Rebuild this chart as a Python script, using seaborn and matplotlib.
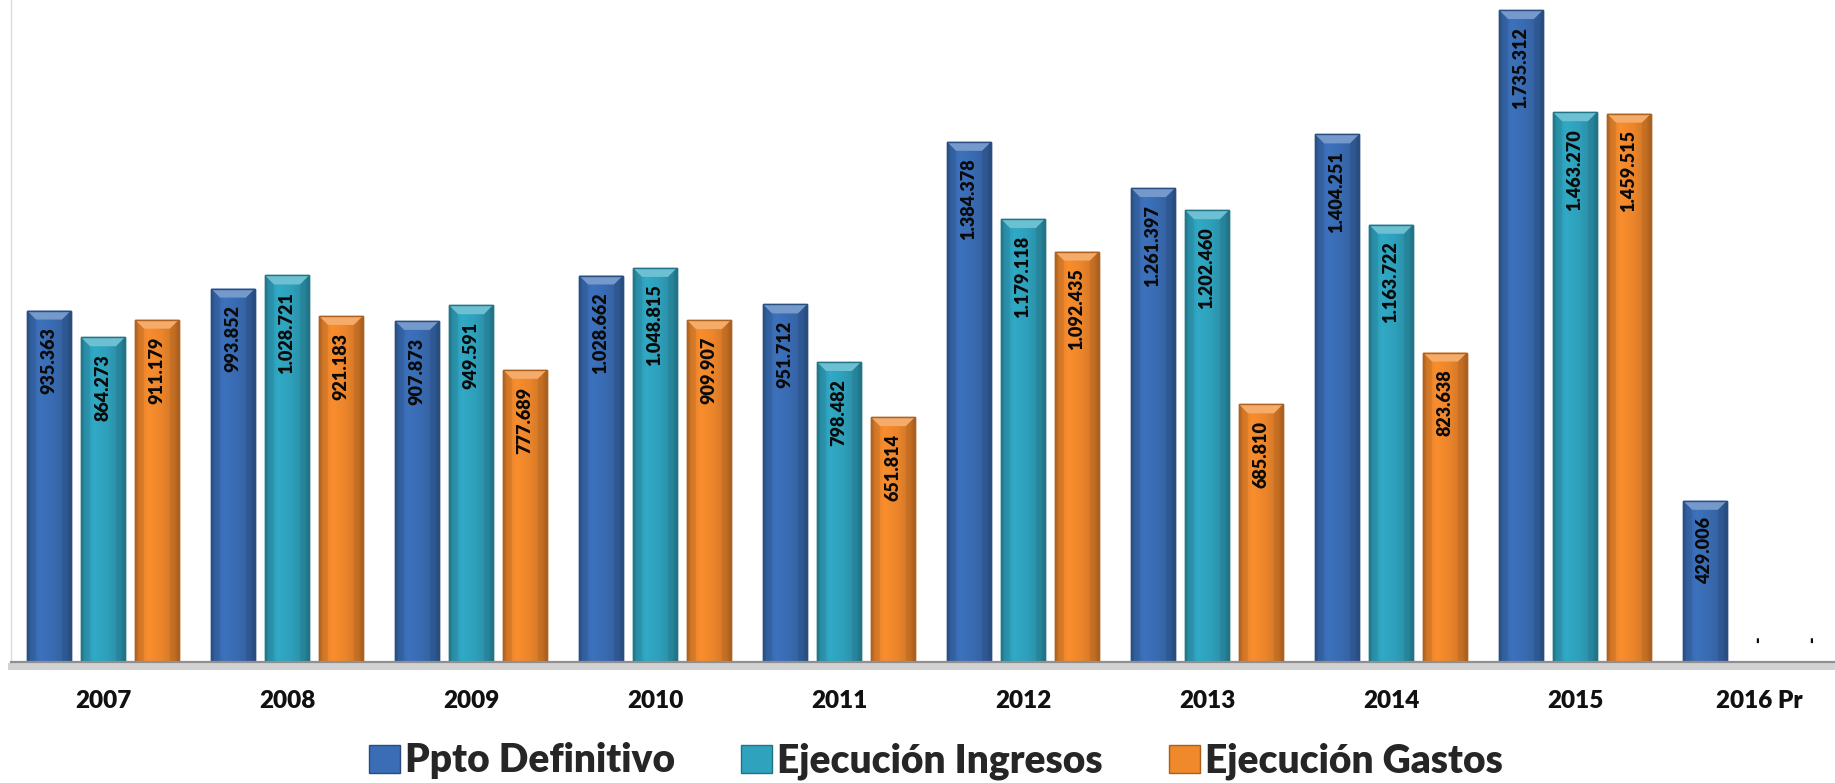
import numpy as np
import pandas as pd
import matplotlib
matplotlib.use("Agg")
import matplotlib.pyplot as plt
import matplotlib.patheffects as pe
from matplotlib.patches import Patch, Polygon
from matplotlib.colors import to_rgb
import seaborn as sns

# ---- data -------------------------------------------------------------
years = ["2007", "2008", "2009", "2010", "2011", "2012", "2013", "2014", "2015", "2016 Pr"]
series = ["Ppto Definitivo", "Ejecución Ingresos", "Ejecución Gastos"]
ppto_definitivo = [935363, 993852, 907873, 1028662, 951712, 1384378, 1261397, 1404251, 1735312, 429006]
ejecucion_ingresos = [864273, 1028721, 949591, 1048815, 798482, 1179118, 1202460, 1163722, 1463270, 0]
ejecucion_gastos = [911179, 921183, 777689, 909907, 651814, 1092435, 685810, 823638, 1459515, 0]
colors = ["#3A6DB5", "#2FA3BE", "#F0882C"]

df = pd.DataFrame({
    "Año": years * 3,
    "Serie": [s for s in series for _ in years],
    "Valor": ppto_definitivo + ejecucion_ingresos + ejecucion_gastos,
})

# ---- style --------------------------------------------------------------
sns.set_theme(style="white")
plt.rcParams["font.family"] = ["Lato", "DejaVu Sans"]
WEIGHT = "heavy"

W, H = 1835, 783
fig = plt.figure(figsize=(W / 100, H / 100), dpi=100)
fig.patch.set_facecolor("white")
ax = fig.add_axes([11 / W, 121 / H, 1 - 11 / W, 662 / H])

sns.barplot(data=df, x="Año", y="Valor", hue="Serie", order=years, hue_order=series,
            palette=colors, saturation=1, width=0.88, gap=0.185, legend=False, ax=ax)

ax.set_xlim(-0.5, 9.413)
ax.set_ylim(0, 1761924)
ax.set_xlabel("")
ax.set_ylabel("")
ax.set_yticks([])
ax.set_facecolor("white")
ax.grid(False)
for side in ("top", "right"):
    ax.spines[side].set_visible(False)
ax.spines["left"].set_color("#DCDCDC")
ax.spines["left"].set_linewidth(1.0)
ax.spines["bottom"].set_color("#8F8F8F")
ax.spines["bottom"].set_linewidth(1.6)
ax.spines["bottom"].set_path_effects([
    pe.SimpleLineShadow(offset=(0, -3), shadow_color="#7F7F7F", alpha=0.35, linewidth=5),
    pe.Normal(),
])
ax.tick_params(axis="x", length=0, pad=20, labelsize=17.5)
for t in ax.get_xticklabels():
    t.set_fontweight(WEIGHT)
    t.set_color("#111111")

# ---- bar shading: horizontal gradient + bevelled top ----------------------
fig.canvas.draw()
px_y = (ax.get_ylim()[1] - ax.get_ylim()[0]) / ax.get_window_extent().height
px_x = (ax.get_xlim()[1] - ax.get_xlim()[0]) / ax.get_window_extent().width
profile_x = [0.0, 0.08, 0.3, 0.6, 0.9, 1.0]
profile_v = [0.72, 0.92, 1.04, 0.98, 0.86, 0.68]
cols = np.linspace(0, 1, 64)
shade = np.interp(cols, profile_x, profile_v)

for container, col in zip(ax.containers, colors):
    base = np.array(to_rgb(col))
    dark = base * 0.72
    for bar in container:
        h = bar.get_height()
        if h <= 0:
            continue
        x0, w = bar.get_x(), bar.get_width()
        img = np.clip(base[None, None, :] * shade[None, :, None], 0, 1)
        im = ax.imshow(img, extent=(x0, x0 + w, 0, h), aspect="auto",
                       interpolation="bilinear", zorder=bar.get_zorder() + 0.1)
        im.set_clip_path(bar)
        bar.set_edgecolor(dark)
        bar.set_linewidth(1.0)
        bh = min(9 * px_y, h)
        inset = 9 * px_x
        light = base + (1 - base) * 0.3
        ax.add_patch(Polygon([(x0, h), (x0 + w, h), (x0 + w - inset, h - bh), (x0 + inset, h - bh)],
                             closed=True, facecolor=light, edgecolor="none",
                             zorder=bar.get_zorder() + 0.2))
        ax.add_patch(Polygon([(x0, h), (x0 + inset, h - bh), (x0 + inset, 0), (x0, 0)],
                             closed=True, facecolor=dark, alpha=0.25, edgecolor="none",
                             zorder=bar.get_zorder() + 0.2))
        ax.add_patch(Polygon([(x0 + w, h), (x0 + w - inset, h - bh), (x0 + w - inset, 0), (x0 + w, 0)],
                             closed=True, facecolor=dark, alpha=0.35, edgecolor="none",
                             zorder=bar.get_zorder() + 0.2))
        ax.add_patch(Polygon([(x0, 0), (x0, h), (x0 + w, h), (x0 + w, 0)], closed=True,
                             facecolor="none", edgecolor=dark, linewidth=1.0,
                             zorder=bar.get_zorder() + 0.3))

# ---- value labels -------------------------------------------------------------
def fmt(v):
    return f"{v:,}".replace(",", ".") if v else "-"

for container, values in zip(ax.containers, [ppto_definitivo, ejecucion_ingresos, ejecucion_gastos]):
    for bar, v in zip(container, values):
        xc = bar.get_x() + bar.get_width() / 2
        if v:
            ax.annotate(fmt(v), (xc, v), xytext=(0, -12), textcoords="offset points",
                        rotation=90, ha="center", va="top", fontsize=13,
                        fontweight=WEIGHT, color="#0A0A0A", zorder=10)
        else:
            ax.annotate(fmt(v), (xc, v), xytext=(0, 16), textcoords="offset points",
                        rotation=90, ha="center", va="center", fontsize=13,
                        fontweight=WEIGHT, color="#0A0A0A", zorder=10)

# ---- legend -----------------------------------------------------------------
handles = [Patch(facecolor=c, edgecolor=tuple(np.array(to_rgb(c)) * 0.7), linewidth=1.0)
           for c in colors]
fig.legend(handles, series, loc="center", bbox_to_anchor=(0.51, 0.028), ncol=3,
           frameon=False, prop={"family": ["Lato", "DejaVu Sans"], "weight": WEIGHT, "size": 28},
           handlelength=0.8, handleheight=0.75, handletextpad=0.12, columnspacing=1.7)

fig.savefig("out.png", dpi=100, facecolor="white")
